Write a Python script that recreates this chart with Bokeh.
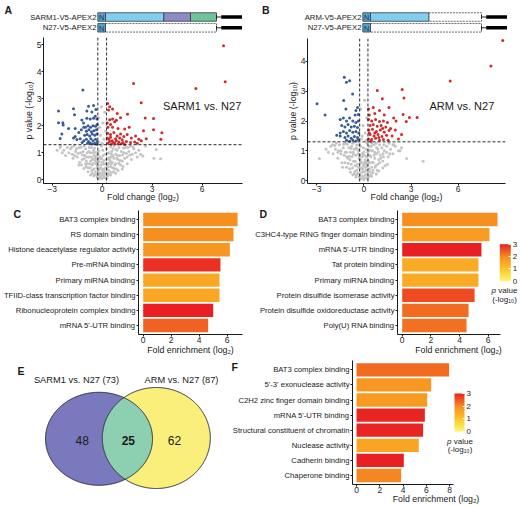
import numpy as np
from bokeh.plotting import figure
from bokeh.models import (Range1d, Label, Span, FixedTicker, LinearColorMapper,
                          ColorBar, ColumnDataSource, Title)
from bokeh.layouts import column, row
from bokeh.embed import file_html
from bokeh.resources import INLINE

# ======================= DATA =======================
FC_CUT = 0.263      # log2(1.2)
P_CUT = 1.301       # -log10(0.05)

# Panel A volcano (fold change log2, -log10 p)
A_UP = [(7.28, 4.96), (7.38, 3.63), (5.62, 3.38), (1.88, 3.56), (2.34, 2.85), (0.32, 2.82), (0.45, 2.70),
        (0.62, 2.62), (0.38, 2.58), (1.52, 2.43), (0.45, 2.22), (0.62, 2.25), (0.75, 2.15), (0.85, 2.20),
        (2.58, 2.29), (3.08, 2.27), (0.35, 1.95), (0.62, 1.95), (0.95, 1.90), (1.35, 1.88), (1.62, 1.95),
        (2.48, 1.82), (3.08, 1.85), (3.58, 1.74), (3.52, 1.50), (2.64, 1.52), (0.32, 1.72), (0.50, 1.68),
        (0.70, 1.75), (0.90, 1.62), (1.10, 1.70), (1.30, 1.60), (1.50, 1.68), (1.75, 1.55), (2.00, 1.62),
        (2.20, 1.50), (0.40, 1.50), (0.60, 1.45), (0.80, 1.52), (1.00, 1.40), (1.20, 1.48), (1.45, 1.42),
        (1.70, 1.38), (1.95, 1.40), (0.35, 1.35), (0.55, 1.32), (0.75, 1.36), (0.95, 1.33), (1.15, 1.34),
        (1.35, 1.31), (0.50, 1.58), (0.85, 1.45), (1.05, 1.55), (1.25, 1.38), (0.30, 1.55), (0.45, 1.42),
        (0.65, 1.38), (2.10, 1.35), (2.35, 1.45), (0.30, 2.10), (0.50, 2.05), (1.10, 2.30), (0.90, 2.45)]
A_DOWN = [(-1.16, 3.32), (-2.62, 2.55), (-1.72, 2.63), (-0.82, 2.72), (-0.52, 2.75), (-0.62, 2.51),
          (-0.92, 2.55), (-1.66, 2.41), (-2.62, 2.11), (-2.36, 2.11), (-2.34, 2.03), (-2.02, 1.90),
          (-1.62, 1.90), (-1.22, 2.21), (-1.12, 2.10), (-0.92, 2.28), (-0.72, 2.25), (-0.52, 2.28),
          (-0.42, 2.35), (-0.32, 2.25), (-2.42, 1.70), (-2.52, 1.53), (-1.72, 1.55), (-1.62, 1.60),
          (-1.52, 1.49), (-1.32, 1.52), (-1.00, 1.95), (-0.85, 2.00), (-0.70, 1.95), (-0.55, 2.00),
          (-0.40, 1.98), (-0.95, 1.80), (-0.80, 1.85), (-0.65, 1.78), (-0.50, 1.82), (-0.35, 1.85),
          (-1.05, 1.65), (-0.90, 1.68), (-0.75, 1.62), (-0.60, 1.70), (-0.45, 1.65), (-0.32, 1.70),
          (-1.10, 1.45), (-0.95, 1.50), (-0.82, 1.42), (-0.68, 1.52), (-0.55, 1.45), (-0.40, 1.50),
          (-0.30, 1.42), (-1.20, 1.38), (-0.88, 1.35), (-0.72, 1.36), (-0.60, 1.33), (-0.45, 1.35),
          (-0.33, 1.32), (-1.40, 1.75), (-1.25, 1.85), (-1.10, 1.95), (-0.38, 2.60), (-0.30, 2.05)]
A_NS = [(0.00, 0.05), (-0.05, 0.12), (0.08, 0.18), (-0.12, 0.25), (0.15, 0.30), (-0.20, 0.38), (0.22, 0.45),
        (-0.28, 0.52), (0.30, 0.60), (-0.35, 0.68), (0.02, 0.35), (-0.08, 0.55), (0.10, 0.72), (-0.15, 0.85),
        (0.18, 0.95), (-0.22, 1.05), (0.25, 1.15), (-0.05, 1.25), (0.05, 0.90), (-0.02, 0.65),
        (-0.50, 0.40), (-0.60, 0.55), (-0.70, 0.70), (-0.80, 0.85), (-0.90, 1.00), (-1.00, 1.15),
        (-1.10, 1.25), (-0.45, 0.80), (-0.55, 1.00), (-0.65, 1.20), (-0.75, 0.60), (-0.85, 0.45),
        (-0.95, 0.70), (-1.05, 0.90), (-1.20, 0.75), (-1.30, 1.00), (-1.40, 1.20), (-1.50, 0.85),
        (-1.60, 1.05), (-1.70, 1.25), (-1.80, 0.95), (-1.90, 1.15), (-2.00, 1.00), (-2.10, 1.20),
        (-2.30, 1.10), (-2.50, 1.25), (-2.70, 1.10), (-1.25, 0.55), (-0.40, 0.30), (-0.30, 0.20),
        (0.40, 0.35), (0.50, 0.50), (0.60, 0.65), (0.70, 0.80), (0.80, 0.95), (0.90, 1.10), (1.00, 1.20),
        (0.45, 0.75), (0.55, 0.95), (0.65, 1.15), (0.75, 0.55), (0.85, 0.40), (0.95, 0.75), (1.05, 0.90),
        (1.20, 0.70), (1.30, 1.00), (1.40, 1.20), (1.50, 0.85), (1.60, 1.05), (1.70, 1.25), (1.80, 0.95),
        (1.90, 1.15), (2.00, 1.00), (2.20, 1.10), (2.44, 0.88), (3.10, 0.80), (3.50, 0.78), (3.24, 1.12),
        (2.60, 1.25), (1.25, 0.50), (0.35, 0.25), (-0.20, 1.40), (0.10, 1.50), (-0.10, 1.65), (0.20, 1.80),
        (-0.15, 1.95), (0.05, 2.10), (-0.22, 2.30), (0.15, 2.50), (-0.05, 2.70), (0.00, 1.35),
        (-0.10, 0.15), (0.12, 0.10), (-0.18, 0.20), (0.20, 0.22), (-0.25, 0.32), (0.28, 0.40),
        (-0.32, 0.45), (0.35, 0.50), (-0.38, 0.60), (0.42, 0.62), (-0.42, 0.72), (0.48, 0.70),
        (-0.48, 0.90), (0.52, 0.85), (-0.52, 1.10), (0.58, 1.05), (-0.58, 0.75), (0.62, 0.45),
        (-0.62, 0.35), (0.68, 0.30), (-0.70, 1.00), (0.72, 1.25), (-0.78, 1.20), (0.80, 0.60),
        (-0.88, 0.60), (0.88, 0.80), (-0.98, 0.50), (1.10, 0.55), (-1.15, 1.05), (1.15, 1.05),
        (-1.35, 0.65), (1.35, 0.80), (-1.55, 1.15), (1.55, 1.20), (-1.75, 0.80), (1.75, 0.75),
        (-2.20, 0.90), (2.10, 0.85), (-0.25, 0.95), (0.25, 0.75), (-0.12, 0.45), (0.10, 0.40),
        (0.00, 0.25), (-0.03, 0.80), (0.03, 1.10), (-2.52, 1.20)]
A_NS_CORE = [(-0.15, 0.05), (0.18, 0.08), (-0.30, 0.10), (0.32, 0.15), (-0.45, 0.20), (0.45, 0.22),
             (-0.60, 0.25), (0.58, 0.28), (-0.05, 0.42), (0.06, 0.60), (-0.09, 0.78), (0.13, 0.58),
             (-0.20, 0.68), (0.22, 0.62), (-0.28, 0.78), (0.30, 0.98), (-0.36, 0.88), (0.38, 0.82),
             (-0.40, 1.02), (0.42, 1.00), (-0.46, 1.18), (0.50, 1.22), (-0.55, 0.62), (0.55, 0.60),
             (-0.65, 0.85), (0.65, 0.88), (-0.72, 0.45), (0.72, 0.42), (-0.80, 1.05), (0.82, 1.12),
             (-0.92, 0.85), (0.92, 0.90), (-1.00, 0.60), (1.00, 0.62), (-1.08, 0.78), (1.08, 0.72),
             (-1.18, 0.92), (1.22, 0.92), (-1.28, 1.20), (1.28, 1.18), (-1.45, 0.98), (1.45, 0.98),
             (-1.65, 0.90), (1.65, 0.92), (-1.85, 1.20), (1.85, 1.22), (-2.40, 1.00), (2.30, 0.95),
             (-0.50, 0.15), (0.50, 0.18), (-0.25, 0.08), (0.25, 0.05), (-0.70, 0.18), (0.80, 0.25),
             (-0.85, 0.30), (0.95, 0.35), (-1.10, 0.42), (1.20, 0.40), (-1.40, 0.55), (1.50, 0.60)]

# Panel B volcano
B_UP = [(8.83, 4.70), (8.08, 3.85), (5.49, 3.34), (2.44, 3.06), (2.55, 2.77), (0.86, 3.02), (1.18, 2.75),
        (2.50, 2.22), (2.90, 2.12), (3.39, 2.12), (2.70, 1.98), (0.30, 2.40), (0.60, 2.45), (1.00, 2.35),
        (1.60, 2.45), (0.35, 2.20), (0.70, 2.25), (1.30, 2.20), (1.90, 2.10), (2.05, 2.00), (0.30, 2.05),
        (0.50, 2.00), (0.75, 2.05), (1.00, 1.98), (1.25, 2.00), (1.50, 1.95), (0.40, 1.85), (0.60, 1.88),
        (0.85, 1.82), (1.10, 1.85), (1.40, 1.80), (1.70, 1.75), (0.32, 1.70), (0.55, 1.72), (0.80, 1.65),
        (1.05, 1.70), (1.30, 1.62), (1.60, 1.68), (2.00, 1.70), (0.40, 1.55), (0.65, 1.50), (0.90, 1.55),
        (1.15, 1.48), (1.45, 1.52), (1.80, 1.50), (0.30, 1.40), (0.50, 1.38), (0.75, 1.42), (1.00, 1.35),
        (1.25, 1.38), (1.55, 1.35), (2.20, 1.40), (2.40, 1.55), (0.45, 1.32), (0.70, 1.60), (0.95, 1.45),
        (1.20, 1.75), (0.35, 1.60)]
B_DOWN = [(-2.97, 2.58), (-2.46, 2.20), (-1.24, 3.47), (-1.10, 3.30), (-0.90, 3.35), (-0.71, 2.91),
          (-1.28, 2.69), (-1.14, 2.40), (-0.50, 2.35), (-0.55, 2.20), (-0.35, 2.22), (-0.40, 2.45),
          (-1.50, 2.05), (-1.30, 2.10), (-1.10, 2.00), (-0.90, 2.10), (-0.70, 2.00), (-0.50, 1.95),
          (-0.35, 2.00), (-1.40, 1.85), (-1.20, 1.80), (-1.00, 1.88), (-0.80, 1.80), (-0.60, 1.82),
          (-0.40, 1.78), (-1.30, 1.65), (-1.10, 1.60), (-0.90, 1.68), (-0.70, 1.62), (-0.50, 1.65),
          (-0.32, 1.60), (-1.50, 1.50), (-1.20, 1.45), (-1.00, 1.50), (-0.80, 1.42), (-0.60, 1.48),
          (-0.40, 1.45), (-1.72, 1.52), (-1.50, 1.60), (-1.10, 1.35), (-0.90, 1.32), (-0.70, 1.36),
          (-0.50, 1.33), (-0.35, 1.38)]
B_NS = [(0.00, 0.04), (0.05, 0.10), (-0.06, 0.15), (0.10, 0.20), (-0.12, 0.28), (0.16, 0.35), (-0.18, 0.42),
        (0.22, 0.50), (-0.24, 0.58), (0.28, 0.66), (-0.30, 0.74), (0.02, 0.30), (-0.04, 0.50), (0.08, 0.70),
        (-0.10, 0.90), (0.14, 1.05), (-0.20, 1.15), (0.20, 1.25), (-0.02, 1.10), (0.04, 0.85),
        (-0.45, 0.35), (-0.55, 0.50), (-0.65, 0.65), (-0.75, 0.80), (-0.85, 0.95), (-0.95, 1.10),
        (-1.05, 1.22), (-0.50, 0.85), (-0.60, 1.05), (-0.70, 1.25), (-0.80, 0.55), (-0.90, 0.40),
        (-1.00, 0.75), (-1.10, 0.95), (-1.20, 0.60), (-1.30, 1.10), (-1.45, 0.90), (-1.55, 1.20),
        (-1.65, 0.75), (-1.80, 1.05), (-1.95, 0.90), (-2.10, 1.15), (-2.25, 0.95), (-2.82, 0.74),
        (-1.35, 0.45), (-0.38, 0.25), (-0.42, 0.55), (-0.48, 1.10), (-0.58, 0.30), (-0.68, 0.95),
        (-0.78, 1.15), (-0.88, 0.70), (-1.15, 1.25), (-1.25, 0.85), (-1.60, 1.00), (-1.75, 1.25),
        (-2.00, 1.20), (0.40, 0.30), (0.50, 0.45), (0.60, 0.60), (0.70, 0.75), (0.80, 0.90), (0.90, 1.05),
        (1.00, 1.20), (0.45, 0.80), (0.55, 1.00), (0.65, 1.20), (0.75, 0.50), (0.85, 0.35), (0.95, 0.70),
        (1.05, 0.85), (1.20, 0.65), (1.30, 1.00), (1.45, 1.15), (1.55, 0.80), (1.70, 1.05), (1.85, 0.90),
        (2.00, 1.15), (2.20, 1.00), (2.72, 0.74), (3.77, 0.65), (1.35, 0.50), (0.38, 0.60), (0.48, 1.15),
        (0.58, 0.35), (0.68, 0.95), (0.78, 1.25), (0.88, 0.55), (1.15, 1.10), (1.25, 0.80), (1.60, 1.25),
        (1.90, 1.20), (2.40, 1.10), (-0.15, 1.40), (0.10, 1.60), (-0.05, 1.85), (0.18, 2.10),
        (-0.20, 2.40), (0.05, 2.70), (-0.10, 1.50), (0.15, 1.35), (-0.15, 0.62), (0.12, 0.45),
        (-0.25, 0.85), (0.25, 0.95), (-0.08, 0.38), (0.18, 0.80), (-0.32, 1.00), (0.33, 1.15),
        (-0.35, 0.45), (0.35, 0.40), (0.00, 0.55), (0.00, 0.95), (-0.22, 0.20), (0.24, 0.25),
        (-0.28, 1.20), (0.30, 0.85)]
B_NS_CORE = [(-0.15, 0.06), (0.18, 0.09), (-0.30, 0.12), (0.32, 0.14), (-0.45, 0.18), (0.45, 0.20),
             (-0.60, 0.22), (0.58, 0.26), (-0.05, 0.40), (0.06, 0.62), (-0.09, 0.80), (0.13, 0.55),
             (-0.20, 0.70), (0.22, 0.64), (-0.28, 0.80), (0.30, 1.00), (-0.36, 0.90), (0.38, 0.85),
             (-0.40, 1.05), (0.42, 1.02), (-0.46, 1.20), (0.50, 1.25), (-0.55, 0.65), (0.55, 0.62),
             (-0.65, 0.88), (0.65, 0.85), (-0.72, 0.42), (0.72, 0.45), (-0.80, 1.08), (0.82, 1.10),
             (-0.92, 0.82), (0.92, 0.95), (-1.00, 0.58), (1.00, 0.60), (-1.08, 0.80), (1.08, 0.75),
             (-1.18, 0.95), (1.22, 0.90), (-1.28, 1.22), (1.28, 1.20), (-1.45, 1.00), (1.45, 0.95),
             (-1.65, 0.95), (1.65, 0.90), (-1.85, 1.18), (1.85, 1.20), (-2.40, 1.05), (2.30, 1.00),
             (-0.50, 0.12), (0.50, 0.15), (-0.25, 0.10), (0.25, 0.07), (-0.70, 0.20), (0.80, 0.22),
             (-0.85, 0.28), (0.95, 0.32), (-1.10, 0.45), (1.20, 0.42), (-1.40, 0.60), (1.50, 0.55)]

A_TITLE = "SARM1 vs. N27"
B_TITLE = "ARM vs. N27"

# Panels C, D, F: GO enrichment (fold enrichment log2, -log10 p)
C_TERMS = ["BAT3 complex binding", "RS domain binding", "Histone deacetylase regulator activity",
           "Pre-mRNA binding", "Primary miRNA binding", "TFIID-class transcription factor binding",
           "Ribonucleoprotein complex binding", "mRNA 5'-UTR binding"]
C_FOLD = [6.74, 6.45, 6.19, 5.52, 5.45, 5.45, 5.00, 4.64]
C_LOGP = [1.95, 1.95, 1.80, 2.85, 1.50, 1.50, 3.00, 2.40]

D_TERMS = ["BAT3 complex binding", "C3HC4-type RING finger domain binding", "mRNA 5'-UTR binding",
           "Tat protein binding", "Primary miRNA binding", "Protein disulfide isomerase activity",
           "Protein disulfide oxidoreductase activity", "Poly(U) RNA binding"]
D_FOLD = [6.65, 6.09, 5.53, 5.32, 5.32, 5.05, 4.63, 4.49]
D_LOGP = [1.95, 1.70, 3.00, 1.45, 1.45, 2.60, 2.30, 2.25]

F_TERMS = ["BAT3 complex binding", "5'-3' exonuclease activity", "C2H2 zinc finger domain binding",
           "mRNA 5'-UTR binding", "Structural constituent of chromatin", "Nuclease activity",
           "Cadherin binding", "Chaperone binding"]
F_FOLD = [7.97, 6.42, 6.08, 5.88, 5.73, 5.36, 4.07, 3.84]
F_LOGP = [2.30, 1.80, 1.75, 2.95, 2.95, 1.55, 3.00, 2.05]

# Panel E: Venn
VENN_NAMES = ["SARM1 vs. N27", "ARM vs. N27"]
VENN_TOTAL = [73, 87]
VENN_SHARED = 25

# Construct diagrams
CONSTRUCTS_A = [("SARM1-V5-APEX2", 4), ("N27-V5-APEX2", 1)]
CONSTRUCTS_B = [("ARM-V5-APEX2", 2), ("N27-V5-APEX2", 1)]
DOMAINS = ["N", "ARM", "SAM", "TIR"]
DOMAIN_LEN = [7.7, 58.3, 26.7, 26.0]

# ======================= STYLE / GEOMETRY =======================
FONT = "Liberation Sans"
INK = "#1a1a1a"
TICK_INK = "#262626"
GRAY, BLUE, RED = "#c4c4c4", "#3a5b98", "#cf2a2e"
DOMAIN_FILL = {"N": "#56a5d3", "ARM": "#80cff3", "SAM": "#8b8cc8", "TIR": "#70c49c"}
VENN_FILL = ("#7b79bd", "#f9ef7a", "#8dd0b1")

_av = [0, 1, 2, 3]
_ac = [(255, 248, 112), (252, 196, 42), (246, 140, 32), (232, 32, 36)]
PALETTE = ["#%02x%02x%02x" % tuple(int(round(np.interp(v, _av, [c[i] for c in _ac]))) for i in range(3))
           for v in np.linspace(0, 3, 256)]
MAPPER = LinearColorMapper(palette=PALETTE, low=0, high=3)

IDENT = (0.0, 0.0, 1.0, 1.0)


class Panel:
    """A figure whose frame edges (fl, fr, ft, fb) are given in page pixels."""

    def __init__(self, ox, oy, W, H, fl, fr, ft, fb, xcal=IDENT, ycal=IDENT, axes=True):
        self.ox, self.oy = ox, oy
        self.l, self.r, self.t, self.b = fl - ox, fr - ox, ft - oy, fb - oy
        self.xcal, self.ycal = xcal, ycal
        self.xr = (self.vx(fl), self.vx(fr))
        self.yr = (self.vy(fb), self.vy(ft))
        kw = {} if axes else dict(x_axis_type=None, y_axis_type=None)
        p = figure(width=W, height=H, x_range=Range1d(*self.xr), y_range=Range1d(*self.yr),
                   min_border_left=self.l, min_border_right=W - self.r,
                   min_border_top=self.t, min_border_bottom=H - self.b,
                   output_backend="svg", toolbar_location=None, **kw)
        try:
            p.frame_align = False
        except Exception:
            pass
        p.outline_line_color = None
        p.grid.grid_line_color = None
        p.background_fill_color = "white"
        p.border_fill_color = "white"
        self.p = p

    def vx(self, px):
        a, va, b, vb = self.xcal
        return va + (px - a) * (vb - va) / (b - a)

    def vy(self, py):
        a, va, b, vb = self.ycal
        return va + (py - a) * (vb - va) / (b - a)

    def label(self, px, py, text, fs, align="left", baseline="middle", style="normal", color=INK):
        self.p.add_layout(Label(x=self.vx(px), y=self.vy(py), text=text, text_font=FONT,
                                text_font_size=f"{fs}px", text_align=align, text_baseline=baseline,
                                text_font_style=style, text_color=color))

    def letter(self, text, px_left, py_base, fs=10.5):
        bottom = py_base + 0.212 * fs
        frame_top = self.oy + self.t
        t = Title(text=text, align="left", vertical_align="bottom", offset=px_left - (self.ox + self.l),
                  text_font=FONT, text_font_size=f"{fs}px", text_font_style="bold", text_color=INK)
        try:
            t.standoff = -2 * (bottom - frame_top)
        except Exception:
            t.standoff = 0
        self.p.add_layout(t, "above")


def style_axes(p, tick_fs="8.5px"):
    for ax in p.axis:
        ax.axis_line_color = INK
        ax.axis_line_width = 1
        ax.major_tick_line_color = INK
        ax.major_tick_out = 2
        ax.major_tick_in = 0
        ax.minor_tick_line_color = None
        ax.major_label_text_font = FONT
        ax.major_label_text_font_size = tick_fs
        ax.major_label_text_color = TICK_INK
        ax.major_label_standoff = 0
        ax.axis_label_text_font = FONT
        ax.axis_label_text_font_style = "normal"
        ax.axis_label_text_font_size = "8.8px"
        ax.axis_label_text_color = INK
        ax.axis_label_standoff = 0


def volcano(pn, up, down, ns, yticks, title, title_px):
    p = pn.p
    for pts, col in ((ns, GRAY), (down, BLUE), (up, RED)):
        src = ColumnDataSource(dict(fc=[a for a, _ in pts], lp=[b for _, b in pts]))
        p.scatter("fc", "lp", source=src, size=3.0, fill_color=col, line_color=None)
    for loc in (-FC_CUT, FC_CUT):
        p.add_layout(Span(location=loc, dimension="height", line_color="#111111",
                          line_dash="3 2", line_width=0.9))
    p.add_layout(Span(location=P_CUT, dimension="width", line_color="#111111",
                      line_dash="3 2", line_width=0.9))
    p.xaxis.ticker = FixedTicker(ticks=[-3, 0, 3, 6])
    p.yaxis.ticker = FixedTicker(ticks=yticks)
    style_axes(p)
    p.yaxis.axis_label = "p value (-log₁₀)"
    p.xaxis.axis_label = "Fold change (log₂)"
    p.xaxis.axis_label_standoff = -3
    pn.label(title_px, 108.3, title, 11)


def bars(pn, terms, fold, logp, xticks, axis_end_px, title_standoff):
    p = pn.p
    n = len(terms)
    ypos = list(range(n - 1, -1, -1))
    src = ColumnDataSource(dict(y=ypos, fold=fold, logp=logp))
    p.hbar(y="y", left=0, right="fold", height=0.88, source=src,
           fill_color={"field": "logp", "transform": MAPPER}, line_color=None)
    p.xaxis.ticker = FixedTicker(ticks=xticks)
    p.yaxis.ticker = FixedTicker(ticks=ypos)
    p.yaxis.major_label_overrides = {y: t for y, t in zip(ypos, terms)}
    style_axes(p)
    p.yaxis.major_label_text_font_size = "7.7px"
    p.yaxis.major_label_text_color = INK
    p.yaxis.major_label_standoff = 1
    p.xaxis.bounds = (pn.xr[0], pn.vx(axis_end_px))
    p.xaxis.axis_label = "Fold enrichment (log₂)"
    p.xaxis.axis_label_standoff = title_standoff


def cbar(pn, px0, px1, py0, py1, title_px, title_py):
    lx = px0 - pn.ox - pn.l
    ly = pn.b - (py1 - pn.oy)
    cb = ColorBar(color_mapper=MAPPER, location=(lx, ly), width=int(round(px1 - px0)),
                  height=int(round(py1 - py0)), padding=0, margin=0,
                  ticker=FixedTicker(ticks=[0, 1, 2, 3]), major_label_text_font=FONT,
                  major_label_text_font_size="8px", major_label_text_color=TICK_INK, label_standoff=2,
                  major_tick_line_color="white", major_tick_in=2, major_tick_out=0,
                  minor_tick_line_color=None, bar_line_color=None, border_line_color=None,
                  background_fill_alpha=0)
    pn.p.add_layout(cb)
    fs = 8.0
    left = title_px - 3.224 * fs / 2
    pn.label(left, title_py, "p", fs, style="italic")
    pn.label(left + 0.834 * fs, title_py, "value", fs)
    pn.label(title_px, title_py + 8.5, "(-log₁₀)", fs, align="center")


def construct(pn, x0, yc, name, n_dom):
    p = pn.p
    h = 8.5
    total = sum(DOMAIN_LEN)
    lefts = [x0 + sum(DOMAIN_LEN[:i]) for i in range(n_dom)]
    rights = [x0 + sum(DOMAIN_LEN[:i + 1]) for i in range(n_dom)]
    if n_dom < len(DOMAINS):
        p.quad(left=[rights[-1]], right=[x0 + total], top=[yc - h / 2], bottom=[yc + h / 2],
               fill_color=None, line_color="#444444", line_dash="2 1", line_width=0.8)
    p.quad(left=lefts, right=rights, top=[yc - h / 2] * n_dom, bottom=[yc + h / 2] * n_dom,
           fill_color=[DOMAIN_FILL[d] for d in DOMAINS[:n_dom]], line_color="#3a3a3a", line_width=0.8)
    end = x0 + total
    p.segment(x0=[end, end], y0=[yc, yc - 2], x1=[end + 4.7, end], y1=[yc, yc + 2],
              line_color="#222222", line_width=1)
    p.quad(left=[end + 4.7], right=[end + 25.5], top=[yc - 1.8], bottom=[yc + 1.8],
           fill_color="black", line_color=None)
    pn.label((lefts[0] + rights[0]) / 2, yc + 0.3, "N", 7.4, align="center", color="#1b2d4f")
    pn.label(x0 - 1.3, yc, name, 7.75, align="right")


def ellipse_xy(c):
    x0, y0, rx, ry = c
    t = np.linspace(0, 2 * np.pi, 721)[:-1]
    return x0 + rx * np.cos(t), y0 + ry * np.sin(t)


def inside(x, y, c):
    x0, y0, rx, ry = c
    return ((x - x0) / rx) ** 2 + ((y - y0) / ry) ** 2 <= 1.0


# ======================= LAYOUT (page pixels, 520 x 506) =======================
# Row 1: construct diagrams + volcano plots
diagA = Panel(0, 0, 256, 34, 0, 256, 0, 34, axes=False)
volcA = Panel(0, 34, 256, 170, 43, 242, 37, 188,
              xcal=(101.7, 0, 201.7, 6), ycal=(184.3, 0, 44.3, 5))
diagB = Panel(256, 0, 264, 34, 256, 520, 0, 34, axes=False)
volcB = Panel(256, 34, 264, 170, 307, 505, 38, 188,
              xcal=(363.3, 0, 457.7, 6), ycal=(185, 0, 61.7, 4))

for (name, nd), yc in zip(CONSTRUCTS_A, (16.5, 27.3)):
    construct(diagA, 97.3, yc, name, nd)
for (name, nd), yc in zip(CONSTRUCTS_B, (16.5, 27.3)):
    construct(diagB, 362.3, yc, name, nd)
diagA.label(4, 9.5, "A", 10.5, baseline="alphabetic", style="bold")
diagB.label(261.5, 9.5, "B", 10.5, baseline="alphabetic", style="bold")

volcano(volcA, A_UP, A_DOWN, A_NS + A_NS_CORE, [0, 1, 2, 3, 4, 5], A_TITLE, 162.5)
volcano(volcB, B_UP, B_DOWN, B_NS + B_NS_CORE, [0, 1, 2, 3, 4], B_TITLE, 429)

# Row 2: C and D
Cp = Panel(0, 204, 248, 153, 138, 242, 210, 334,
           xcal=(142.7, 0, 226.7, 6), ycal=(325, 0, 219, 7))
Dp = Panel(248, 204, 272, 153, 397, 519, 210, 334,
           xcal=(401.7, 0, 487.7, 6), ycal=(325, 0, 219, 7))
bars(Cp, C_TERMS, C_FOLD, C_LOGP, [0, 2, 4, 6], 242, -1)
bars(Dp, D_TERMS, D_FOLD, D_LOGP, [0, 2, 4, 6], 500, -1)
cbar(Dp, 499.3, 510, 243.3, 280.7, 504, 290)
Cp.letter("C", 13, 217)
Dp.letter("D", 259, 217)

# Row 3: E (Venn) and F
Ep = Panel(0, 357, 219, 149, 0, 219, 357, 506, axes=False)
LEFT_E = (98.5, 438.3, 53.5, 46.5)
RIGHT_E = (155.8, 437.5, 54.0, 50.5)
lx_, ly_ = ellipse_xy(LEFT_E)
rx_, ry_ = ellipse_xy(RIGHT_E)
Ep.p.patch(list(lx_), list(ly_), fill_color=VENN_FILL[0], line_color=None)
Ep.p.patch(list(rx_), list(ry_), fill_color=VENN_FILL[1], line_color=None)
m1 = inside(lx_, ly_, RIGHT_E)
m2 = inside(rx_, ry_, LEFT_E)
lens_x = np.concatenate([lx_[m1], rx_[m2]])
lens_y = np.concatenate([ly_[m1], ry_[m2]])
ang = np.arctan2(lens_y - lens_y.mean(), lens_x - lens_x.mean())
order = np.argsort(ang)
Ep.p.patch(list(lens_x[order]), list(lens_y[order]), fill_color=VENN_FILL[2], line_color=None)
Ep.p.patch(list(lx_), list(ly_), fill_color=None, line_color="#22223a", line_width=1)
Ep.p.patch(list(rx_), list(ry_), fill_color=None, line_color="#22223a", line_width=1)
Ep.label(76, 379, f"{VENN_NAMES[0]} ({VENN_TOTAL[0]})", 9.3, align="center")
Ep.label(181, 379, f"{VENN_NAMES[1]} ({VENN_TOTAL[1]})", 9.3, align="center")
Ep.label(81.7, 439.5, str(VENN_TOTAL[0] - VENN_SHARED), 12, align="center")
Ep.label(127.8, 439.5, str(VENN_SHARED), 12, align="center", style="bold")
Ep.label(174, 439.5, str(VENN_TOTAL[1] - VENN_SHARED), 12, align="center")
Ep.label(17, 370.3, "E", 10.5, baseline="alphabetic", style="bold")

Fp = Panel(219, 357, 301, 149, 352, 519, 360, 484,
           xcal=(356, 0, 449, 8), ycal=(475, 0, 369.3, 7))
bars(Fp, F_TERMS, F_FOLD, F_LOGP, [0, 2, 4, 6, 8], 453, -2)
cbar(Fp, 454, 464, 393, 431, 459.5, 440.7)
Fp.letter("F", 231, 370.3)

layout = column(
    row(column(diagA.p, volcA.p, spacing=0), column(diagB.p, volcB.p, spacing=0), spacing=0),
    row(Cp.p, Dp.p, spacing=0),
    row(Ep.p, Fp.p, spacing=0),
    spacing=0,
)

open("out.html", "w").write(file_html(layout, INLINE))
